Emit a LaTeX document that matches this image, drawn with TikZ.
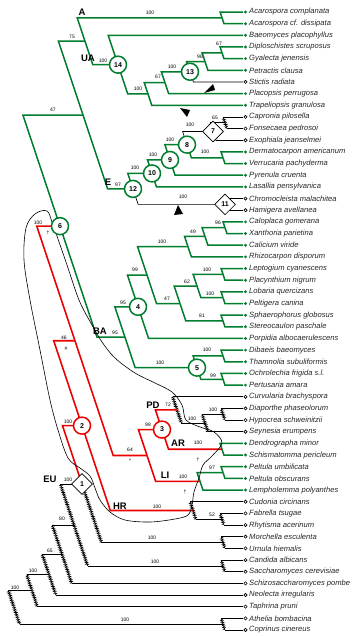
\documentclass[tikz,border=0pt]{standalone}
\usepackage{fontspec}
\setmainfont{Liberation Sans}
\usetikzlibrary{calc,decorations.pathmorphing,shapes.geometric}
\definecolor{Lich}{RGB}{0,125,45}
\definecolor{Loss}{RGB}{235,0,0}

\tikzset{
  gbr/.style={Lich,line width=1.5pt},
  rbr/.style={Loss,line width=1.6pt},
  kbr/.style={black,line width=0.7pt},
  hatch/.style={black,line width=0.6pt,decorate,
    decoration={zigzag,segment length=1.8pt,amplitude=1.3pt}},
  sup/.style={font=\fontsize{5}{5}\selectfont,inner sep=0pt},
  taxon/.style={anchor=west,inner sep=0pt,text=black!85,
    font=\fontsize{7.6}{8}\selectfont\itshape},
  clab/.style={font=\fontsize{9.5}{10}\selectfont\bfseries,inner sep=0pt},
  gcirc/.style={circle,draw=Lich,fill=white,line width=1.5pt,minimum size=17pt,
    inner sep=0pt,font=\fontsize{7}{7}\selectfont\bfseries},
  rcirc/.style={gcirc,draw=Loss},
  kdiam/.style={diamond,draw=black,fill=white,line width=0.7pt,minimum size=21pt,
    inner sep=0pt,font=\fontsize{7}{7}\selectfont\bfseries},
  G/.style={circle,fill=Lich,inner sep=0pt,minimum size=3.2pt},
  K/.style={circle,draw=black,fill=white,line width=0.6pt,inner sep=0pt,minimum size=3.2pt},
}

% node point on the slanted bar, half way between two children
\newcommand\clade[4]{\path let \p1=(#3),\p2=(#4) in (#2pt,{(\y1+\y2)/2}) coordinate (#1);}
% connector parent -> child: half bar, then horizontal
\newcommand\branch[3][gbr]{\draw[#1] let \p1=(#2),\p2=(#3) in
  (\p1) -- ({\x1+(\y1)/3-(\y2)/3},\y2) -- (\p2);}
% same, bar hatched
\newcommand\hbranch[2]{\draw[kbr] let \p1=(#1),\p2=(#2) in
  ({\x1+(\y1)/3-(\y2)/3},\y2) -- (\p2) (\p1) edge[hatch] ({\x1+(\y1)/3-(\y2)/3},\y2);}

\begin{document}
\begin{tikzpicture}[x=1pt,y=-1pt]
  \useasboundingbox (0,0) rectangle (362,637);

  % taxa
  \foreach \i/\t/\c in {1/Acarospora complanata/G,2/Acarospora cf. dissipata/G,
    3/Baeomyces placophyllus/G,4/Diploschistes scruposus/G,5/Gyalecta jenensis/G,
    6/Petractis clausa/G,7/Stictis radiata/K,8/Placopsis perrugosa/G,
    9/Trapeliopsis granulosa/G,10/Capronia pilosella/K,11/Fonsecaea pedrosoi/K,
    12/Exophiala jeanselmei/K,13/Dermatocarpon americanum/G,14/Verrucaria pachyderma/G,
    15/Pyrenula cruenta/G,16/Lasallia pensylvanica/G,17/Chromocleista malachitea/K,
    18/Hamigera avellanea/K,19/Caloplaca gomerana/G,20/Xanthoria parietina/G,
    21/Calicium viride/G,22/Rhizocarpon disporum/G,23/Leptogium cyanescens/G,
    24/Placynthium nigrum/G,25/Lobaria quercizans/G,26/Peltigera canina/G,
    27/Sphaerophorus globosus/G,28/Stereocaulon paschale/G,
    29/Porpidia albocaerulescens/G,30/Dibaeis baeomyces/G,31/Thamnolia subuliformis/G,
    32/Ochrolechia frigida s.l./G,33/Pertusaria amara/G,34/Curvularia brachyspora/K,
    35/Diaporthe phaseolorum/K,36/Hypocrea schweinitzii/K,37/Seynesia erumpens/K,
    38/Dendrographa minor/G,39/Schismatomma pericleum/G,40/Peltula umbilicata/G,
    41/Peltula obscurans/G,42/Lempholemma polyanthes/G,43/Cudonia circinans/K,
    44/Fabrella tsugae/K,45/Rhytisma acerinum/K,46/Morchella esculenta/K,
    47/Urnula hiemalis/K,48/Candida albicans/K,49/Saccharomyces cerevisiae/K,
    50/Schizosaccharomyces pombe/K,51/Neolecta irregularis/K,52/Taphrina pruni/K,
    53/Athelia bombacina/K,54/Coprinus cinereus/K}{
    \coordinate (l\i) at (243,{12+11.66*(\i-1)});
    \node[taxon] (t\i) at (249,{12+11.66*(\i-1)}) {\t};
    \node[\c] (d\i) at (245.5,{12+11.66*(\i-1)}) {};
  }

  % clades: name, x, upper child, lower child
  \clade{nAco}{222}{l1}{l2}
  \clade{nDG}{222}{l4}{l5}
  \clade{nDGP}{205}{nDG}{l6}
  \clade{n13}{190}{nDGP}{l7}
  \clade{nP}{165}{n13}{l8}
  \clade{nT}{148}{nP}{l9}
  \clade{n14}{118}{l3}{nT}
  \clade{n75}{85}{nAco}{n14}
  \clade{nCF}{225}{l10}{l11}
  \clade{n7}{213}{nCF}{l12}
  \clade{nDV}{223}{l13}{l14}
  \clade{n8}{187}{n7}{nDV}
  \clade{n9}{170}{n8}{l15}
  \clade{n10}{152}{n9}{l16}
  \clade{n11}{225}{l17}{l18}
  \clade{n12}{133}{n10}{n11}
  \clade{n47}{83}{n75}{n12}
  \clade{nCX}{225}{l19}{l20}
  \clade{n49}{205}{nCX}{l21}
  \clade{nC4}{188}{n49}{l22}
  \clade{nLP}{223}{l23}{l24}
  \clade{nLoP}{223}{l25}{l26}
  \clade{n62}{197}{nLP}{nLoP}
  \clade{nSS}{223}{l27}{l28}
  \clade{n47b}{180}{n62}{nSS}
  \clade{n99}{147}{nC4}{n47b}
  \clade{n4}{138}{n99}{l29}
  \clade{nDT}{223}{l30}{l31}
  \clade{nOP}{223}{l32}{l33}
  \clade{n5}{197}{nDT}{nOP}
  \clade{nBA}{125}{n4}{n5}
  \clade{n6}{60}{n47}{nBA}
  \clade{nDH}{223}{l35}{l36}
  \clade{nDHS}{205}{nDH}{l37}
  \clade{nPD}{177}{l34}{nDHS}
  \clade{nAR}{222}{l38}{l39}
  \clade{n3}{162}{nPD}{nAR}
  \clade{nPP}{223}{l40}{l41}
  \clade{nLI}{200}{nPP}{l42}
  \clade{n64}{147}{n3}{nLI}
  \clade{n46}{75}{n6}{n64}
  \clade{nFR}{222}{l44}{l45}
  \clade{nHR}{193}{l43}{nFR}
  \clade{n2}{82}{n46}{nHR}
  \clade{nMU}{223}{l46}{l47}
  \clade{nEU}{82}{n2}{nMU}
  \clade{nCS}{223}{l48}{l49}
  \clade{n524}{74}{nEU}{nCS}
  \clade{n555}{62}{n524}{l50}
  \clade{n576}{49}{n555}{l51}
  \clade{nING}{32}{n576}{l52}
  \clade{nAB}{223}{l53}{l54}
  \clade{nRoot}{14}{nING}{nAB}

  % non-lichenized parts
  \branch[kbr]{n13}{l7}
  \branch[kbr]{n12}{n11}
  \branch[kbr]{n8}{n7}
  \hbranch{n7}{nCF} \hbranch{n7}{l12}
  \hbranch{nCF}{l10} \hbranch{nCF}{l11}
  \hbranch{n11}{l17} \hbranch{n11}{l18}
  \hbranch{nPD}{l34} \hbranch{nPD}{nDHS}
  \hbranch{nDHS}{nDH} \hbranch{nDHS}{l37}
  \hbranch{nDH}{l35} \hbranch{nDH}{l36}
  \hbranch{nHR}{l43} \hbranch{nHR}{nFR}
  \hbranch{nFR}{l44} \hbranch{nFR}{l45}
  \hbranch{nEU}{nMU}
  \hbranch{nMU}{l46} \hbranch{nMU}{l47}
  \hbranch{n524}{nEU} \hbranch{n524}{nCS}
  \hbranch{nCS}{l48} \hbranch{nCS}{l49}
  \hbranch{n555}{n524} \hbranch{n555}{l50}
  \hbranch{n576}{n555} \hbranch{n576}{l51}
  \hbranch{nING}{n576} \hbranch{nING}{l52}
  \hbranch{nRoot}{nING} \hbranch{nRoot}{nAB}
  \hbranch{nAB}{l53} \hbranch{nAB}{l54}

  % lichenized parts
  \branch{nAco}{l1} \branch{nAco}{l2}
  \branch{n75}{nAco} \branch{n75}{n14}
  \branch{n14}{l3} \branch{n14}{nT}
  \branch{nT}{nP} \branch{nT}{l9}
  \branch{nP}{n13} \branch{nP}{l8}
  \branch{n13}{nDGP}
  \branch{nDGP}{nDG} \branch{nDGP}{l6}
  \branch{nDG}{l4} \branch{nDG}{l5}
  \branch{n47}{n75} \branch{n47}{n12}
  \branch{n12}{n10}
  \branch{n10}{n9} \branch{n10}{l16}
  \branch{n9}{n8} \branch{n9}{l15}
  \branch{n8}{nDV}
  \branch{nDV}{l13} \branch{nDV}{l14}
  \branch{n6}{n47} \branch{n6}{nBA}
  \branch{nBA}{n4} \branch{nBA}{n5}
  \branch{n4}{n99} \branch{n4}{l29}
  \branch{n99}{nC4} \branch{n99}{n47b}
  \branch{nC4}{n49} \branch{nC4}{l22}
  \branch{n49}{nCX} \branch{n49}{l21}
  \branch{nCX}{l19} \branch{nCX}{l20}
  \branch{n47b}{n62} \branch{n47b}{nSS}
  \branch{n62}{nLP} \branch{n62}{nLoP}
  \branch{nLP}{l23} \branch{nLP}{l24}
  \branch{nLoP}{l25} \branch{nLoP}{l26}
  \branch{nSS}{l27} \branch{nSS}{l28}
  \branch{n5}{nDT} \branch{n5}{nOP}
  \branch{nDT}{l30} \branch{nDT}{l31}
  \branch{nOP}{l32} \branch{nOP}{l33}
  \branch{nAR}{l38} \branch{nAR}{l39}
  \branch{nLI}{nPP} \branch{nLI}{l42}
  \branch{nPP}{l40} \branch{nPP}{l41}

  % red parts
  \branch[rbr]{n46}{n6} \branch[rbr]{n46}{n64}
  \branch[rbr]{n64}{n3} \branch[rbr]{n64}{nLI}
  \branch[rbr]{n3}{nPD} \branch[rbr]{n3}{nAR}
  \branch[rbr]{n2}{n46} \branch[rbr]{n2}{nHR}
  \branch[rbr]{nEU}{n2}

  % outline round the red lineage
  \draw[black,line width=0.6pt] plot[smooth cycle,tension=0.55] coordinates {
    (47,211) (53,225) (66,262) (79,300) (92,325) (102,342) (115,358) (135,373)
    (155,383) (172,392) (182,405) (186,420) (200,427) (214,432) (222,443)
    (212,456) (203,465) (199,478) (194,492) (192,505) (188,515) (175,519)
    (150,522) (125,520) (110,512) (100,500) (95,488) (90,476) (80,468)
    (68,458) (58,430) (50,400) (40,350) (30,300) (24,260) (26,228) (35,214)};

  % losses
  \fill (213,84) -- (204,93) -- (215,90) -- cycle;
  \fill (180,108) -- (187,117) -- (190,110) -- cycle;
  \fill (174,215) -- (178,205) -- (183,214) -- cycle;

  % node symbols
  \node[gcirc] (c14) at (n14) {14};
  \node[gcirc] (c13) at (n13) {13};
  \node[gcirc] (c8) at (n8) {8};
  \node[gcirc] (c9) at (n9) {9};
  \node[gcirc] (c10) at (n10) {10};
  \node[gcirc] (c12) at (n12) {12};
  \node[gcirc] (c6) at (n6) {6};
  \node[gcirc] (c4) at (n4) {4};
  \node[gcirc] (c5) at (n5) {5};
  \node[rcirc] (c2) at (n2) {2};
  \node[rcirc] (c3) at (n3) {3};
  \node[kdiam] (q7) at (n7) {7};
  \node[kdiam] (q11) at (n11) {11};
  \node[kdiam] (q1) at (nEU) {1};

  % clade names
  \node[clab] (A) at (82,12) {A};
  \node[clab] (UA) at (88,58) {UA};
  \node[clab] (E) at (108,182) {E};
  \node[clab] (BA) at (100,331) {BA};
  \node[clab] (PD) at (153,405) {PD};
  \node[clab] (AR) at (178,443) {AR};
  \node[clab] (LI) at (165,475) {LI};
  \node[clab] (HR) at (120,506) {HR};
  \node[clab] (EU) at (50,479) {EU};

  % support values
  \foreach \x/\y/\t [count=\k] in {150/13/100,72/37/75,103/61/100,138/89/100,
    158/77/67,172/67/100,200/57/96,219/44/67,53/110/47,118/185/97,135/168/100,
    153/155/100,170/140/100,190/125/100,215/118/65,205/152/100,183/197/100,
    162/242/100,193/232/49,218/223/96,135/270/99,167/299/47,187/282/62,
    207/270/100,210/294/100,202/316/81,123/303/95,115/333/95,160/363/100,
    207/350/100,213/376/99,38/223/100,64/338/46,68/422/100,130/450/64,
    148/425/98,168/405/72,213/410/100,192/419/100,198/443/100,183/477/100,
    212/468/97,157/507/100,212/515/52,68/480/100,152/538/100,62/519/80,
    155/562/100,50/551/65,33/571/100,15/588/100,125/620/100}{
    \node[sup] (s\k) at (\x,\y) {\t};
  }
  \node[sup] (m1) at (48,233) {†};
  \node[sup] (m2) at (66,349) {\#};
  \node[sup] (m3) at (130,461) {*};
  \node[sup] (m4) at (198,460) {†};
  \node[sup] (m5) at (185,492) {†};
\end{tikzpicture}
\end{document}
